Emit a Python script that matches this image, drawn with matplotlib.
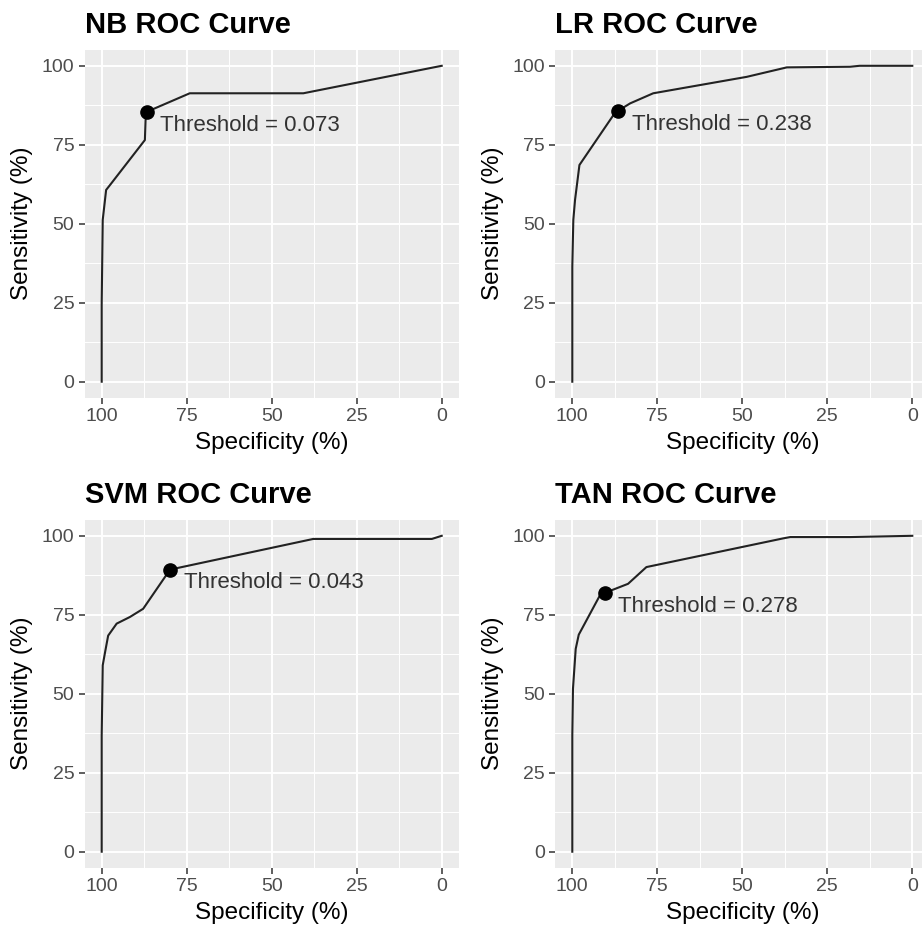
# ROC curves for the four classifiers, ggplot-like look

import matplotlib
matplotlib.use("Agg")
import matplotlib.pyplot as plt

plt.rcParams['font.family'] = ['Liberation Sans', 'DejaVu Sans']

# Data (specificity %, sensitivity %)
nb_spec = [100, 100, 99.7, 98.7, 97.6, 87.3, 87.1, 86.8, 74.1, 40.7, 0]
nb_sens = [0, 24.8, 51.2, 60.7, 62.2, 76.5, 82.8, 85.4, 91.3, 91.3, 100]

lr_spec = [100, 100, 99.7, 99.2, 97.9, 87.9, 86.6, 83.0, 76.2, 48.7, 36.9, 18.3, 15.5, 0]
lr_sens = [0, 36.4, 51.2, 57.5, 68.6, 84.4, 85.7, 88.1, 91.3, 96.5, 99.5, 99.7, 100, 100]

svm_spec = [100, 100, 99.7, 99.0, 98.1, 95.6, 91.7, 87.8, 79.9, 37.8, 2.9, 0]
svm_sens = [0, 36.8, 59.0, 63.2, 68.4, 72.2, 74.3, 76.9, 89.3, 99.0, 99.0, 100]

tan_spec = [100, 100, 99.8, 99.0, 98.1, 91.9, 90.5, 83.6, 78.2, 37.9, 35.9, 18.2, 0]
tan_sens = [0, 36.8, 51.6, 64.2, 68.7, 81.1, 81.9, 84.8, 90.1, 99.2, 99.6, 99.6, 100]

# best thresholds
names = ['NB', 'LR', 'SVM', 'TAN']
thr_values = ['0.073', '0.238', '0.043', '0.278']
thr_spec = [86.8, 86.6, 79.9, 90.5]
thr_sens = [85.4, 85.7, 89.3, 81.9]

ticks = [0, 25, 50, 75, 100]
minor_ticks = [12.5, 37.5, 62.5, 87.5]

curves = [(nb_spec, nb_sens), (lr_spec, lr_sens), (svm_spec, svm_sens), (tan_spec, tan_sens)]

W, H = 922, 933
fig = plt.figure(figsize=(W / 100, H / 100), dpi=100)

# panel boxes in pixels: left, top
boxes = [(84.7, 50), (555.3, 50), (84.7, 520), (555.3, 520)]
pw, ph = 374, 347.5

for i in range(4):
    left, top = boxes[i]
    ax = fig.add_axes([left / W, 1 - (top + ph) / H, pw / W, ph / H])
    ax.set_facecolor('#EBEBEB')
    for s in ax.spines.values():
        s.set_visible(False)

    spec, sens = curves[i]
    ax.plot(spec, sens, color='#222222', lw=1.5)
    ax.plot(thr_spec[i], thr_sens[i], 'o', color='black', ms=9.5)
    ax.annotate('Threshold = ' + thr_values[i], (thr_spec[i], thr_sens[i]),
                xytext=(10, -2), textcoords='offset points',
                ha='left', va='top', fontsize=16, color='#333333')

    ax.set_xlim(105, -5)
    ax.set_ylim(-5, 105)
    ax.set_xticks(ticks)
    ax.set_yticks(ticks)
    ax.set_xticks(minor_ticks, minor=True)
    ax.set_yticks(minor_ticks, minor=True)
    ax.grid(which='major', color='white', lw=1.4)
    ax.grid(which='minor', color='white', lw=0.7)
    ax.set_axisbelow(True)
    ax.tick_params(which='major', color='#333333', labelcolor='#4D4D4D',
                   length=4.5, width=1.1, labelsize=14, pad=3)
    ax.tick_params(which='minor', length=0)

    ax.set_xlabel('Specificity (%)', fontsize=17.5)
    ax.set_ylabel('Sensitivity (%)', fontsize=17.5)
    ax.xaxis.set_label_coords(0.5, -45.5 / ph)
    ax.xaxis.label.set_va('center')
    ax.yaxis.set_label_coords(-62.7 / pw, 0.5)
    ax.yaxis.label.set_va('center')

    ax.set_title(names[i] + ' ROC Curve', loc='left', fontsize=21,
                 fontweight='bold', pad=12)

fig.savefig('out.png', dpi=100)
